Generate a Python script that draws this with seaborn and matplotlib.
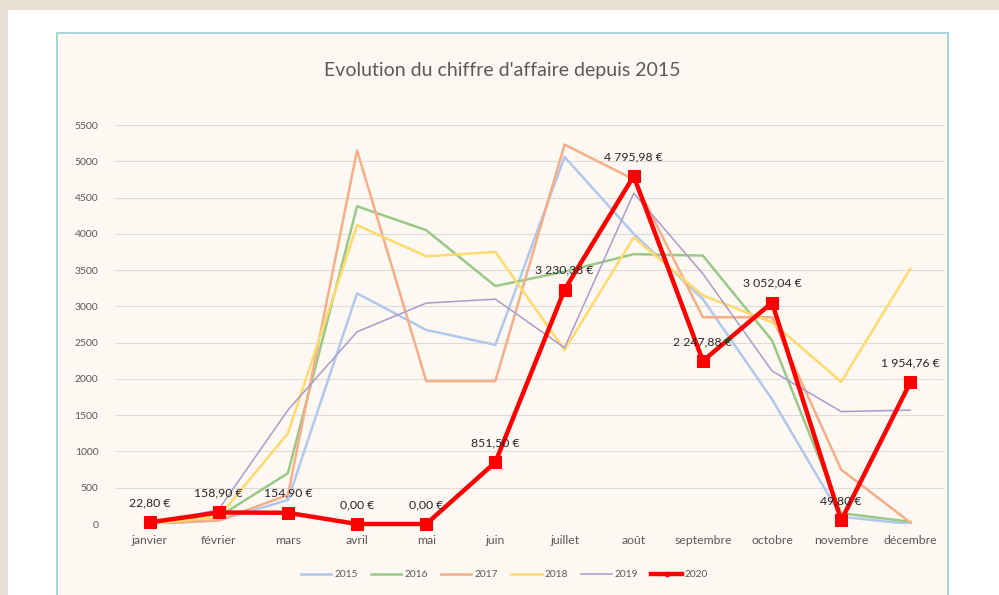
import numpy as np
import pandas as pd
import matplotlib.pyplot as plt
import seaborn as sns
from matplotlib.patches import Rectangle
from matplotlib.lines import Line2D

# Mois et chiffre d'affaire par année
mois = ['janvier', 'février', 'mars', 'avril', 'mai', 'juin', 'juillet',
        'août', 'septembre', 'octobre', 'novembre', 'décembre']
ca_2015 = [0, 50, 330, 3180, 2675, 2470, 5060, 4000, 3100, 1720, 100, 0]
ca_2016 = [0, 100, 700, 4380, 4050, 3280, 3480, 3720, 3700, 2530, 150, 30]
ca_2017 = [0, 50, 400, 5150, 1970, 1970, 5230, 4750, 2850, 2850, 750, 20]
ca_2018 = [0, 100, 1250, 4120, 3690, 3750, 2400, 3950, 3150, 2780, 1960, 3520]
ca_2019 = [0, 200, 1570, 2650, 3045, 3100, 2430, 4560, 3450, 2110, 1550, 1570]
ca_2020 = [22.80, 158.90, 154.90, 0.00, 0.00, 851.50, 3230.38, 4795.98,
           2247.88, 3052.04, 49.80, 1954.76]

annees = ['2015', '2016', '2017', '2018', '2019']
couleurs = {'2015': '#b0c8ee', '2016': '#98c987', '2017': '#f6ae88',
            '2018': '#ffda6c', '2019': '#a99ccb'}
epaisseur = {'2015': 1.8, '2016': 1.8, '2017': 1.8, '2018': 1.8, '2019': 1.1}

df = pd.DataFrame({'Mois': mois, '2015': ca_2015, '2016': ca_2016,
                   '2017': ca_2017, '2018': ca_2018, '2019': ca_2019})
df['x'] = range(len(mois))
df_long = df.melt(id_vars=['Mois', 'x'], value_vars=annees,
                  var_name='Annee', value_name='CA')
df_2020 = pd.DataFrame({'x': range(len(mois)), 'CA': ca_2020})

plt.rcParams['font.family'] = ['Lato', 'DejaVu Sans']

fig = plt.figure(figsize=(9.99, 5.95), dpi=100)
fig.patch.set_facecolor('#e9dfd5')
# fond blanc + cadre du graphique
fig.patches.append(Rectangle((0.008, 0), 1, 0.983, transform=fig.transFigure,
                             facecolor='white', edgecolor='none', zorder=0))
fig.patches.append(Rectangle((0.057, -0.01), 0.892, 0.9545, transform=fig.transFigure,
                             facecolor='#fdf8f2', edgecolor='#9fd0d8', lw=1.3, zorder=0))

ax = fig.add_axes([0.1151, 0.1193, 0.8308, 0.6706])
ax.set_facecolor('none')
ax.set_zorder(3)

for an in annees:
    sns.lineplot(data=df_long[df_long['Annee'] == an], x='x', y='CA', ax=ax,
                 color=couleurs[an], lw=epaisseur[an], legend=False, zorder=2)

sns.lineplot(data=df_2020, x='x', y='CA', ax=ax, color='#ff0000', lw=3.2,
             marker='s', markersize=8.5, markeredgecolor='#ff0000',
             legend=False, zorder=5, clip_on=False)

# étiquettes de données
for i, v in enumerate(ca_2020):
    txt = f"{v:,.2f}".replace(',', ' ').replace('.', ',') + ' €'
    ax.annotate(txt, (i, v), xytext=(0, 14), textcoords='offset points',
                ha='center', va='center', fontsize=8.8, color='#262626', zorder=6)

ax.set_xlim(-0.5, 11.5)
ax.set_ylim(0, 5500)
ax.set_yticks(np.arange(0, 5501, 500))
ax.set_xticks(range(len(mois)))
ax.set_xticklabels(mois)
ax.tick_params(axis='both', length=0, labelcolor='#595959')
ax.tick_params(axis='x', pad=8, labelsize=8.8)
ax.tick_params(axis='y', pad=12, labelsize=7.5)
ax.grid(axis='y', color='#dcdcdc', lw=0.8)
ax.grid(axis='x', visible=False)
ax.set_axisbelow(True)
for s in ax.spines.values():
    s.set_visible(False)
ax.set_xlabel('')
ax.set_ylabel('')

fig.text(0.503, 0.882, "Evolution du chiffre d'affaire depuis 2015", ha='center',
         va='center', fontsize=14, color='#595959')

handles = [Line2D([], [], color=couleurs[an], lw=epaisseur[an]) for an in annees]
handles.append(Line2D([], [], color='#ff0000', lw=3.2, marker='o', markersize=3))
leg = fig.legend(handles, annees + ['2020'], loc='center', bbox_to_anchor=(0.505, 0.034),
                 ncol=6, frameon=False, fontsize=7.3, labelcolor='#595959',
                 handlelength=3.0, handletextpad=0.3, columnspacing=1.3)
leg.set_zorder(4)

plt.savefig('out.png', dpi=100, facecolor=fig.get_facecolor())
